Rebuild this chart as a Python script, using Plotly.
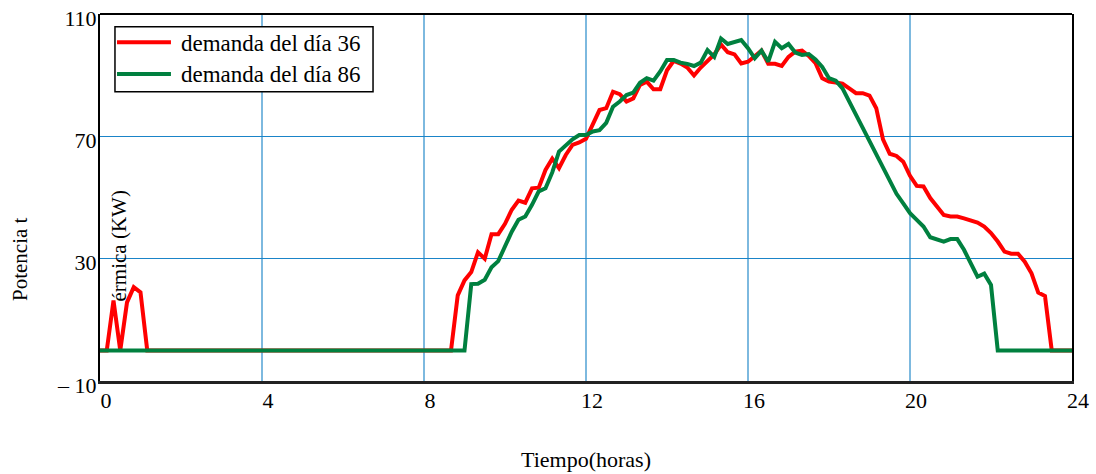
import plotly.graph_objects as go

# Thermal power demand (kW) for two days, sampled every 10 minutes
hours_36 = [0, 1/6, 2/6, 3/6, 4/6, 5/6, 1.0, 7/6, 8.667,
            8.833, 9.0, 9.167, 9.333, 9.5, 9.667, 9.833, 10.0, 10.167, 10.333,
            10.5, 10.667, 10.833, 11.0, 11.167, 11.333, 11.5, 11.667, 11.833, 12.0,
            12.333, 12.5, 12.667, 12.833, 13.0, 13.167, 13.333, 13.5, 13.667, 13.833,
            14.0, 14.167, 14.333, 14.5, 14.667, 14.833, 15.0, 15.167, 15.333, 15.5,
            15.667, 15.833, 16.0, 16.167, 16.333, 16.5, 16.667, 16.833, 17.0, 17.167,
            17.333, 17.5, 17.667, 17.833, 18.0, 18.167, 18.333, 18.5, 18.667, 18.833,
            19.0, 19.167, 19.333, 19.5, 19.667, 19.833, 20.0, 20.167, 20.333, 20.5,
            20.667, 20.833, 21.0, 21.167, 21.333, 21.5, 21.667, 21.833, 22.0, 22.167,
            22.333, 22.5, 22.667, 22.833, 23.0, 23.167, 23.333, 23.5, 24.0]
demand_36 = [0, 0, 16.3, 0, 15.7, 20.7, 19.0, 0, 0,
             18.0, 22.9, 25.6, 32.1, 30.0, 38.0, 38.0, 41.4, 46.0, 49.0,
             48.3, 53.0, 53.2, 59.0, 62.7, 59.6, 63.9, 67.2, 68.0, 69.2,
             78.6, 79.2, 84.6, 83.8, 81.4, 82.4, 86.8, 87.9, 85.4, 85.4,
             91.6, 94.7, 93.8, 92.5, 89.9, 92.5, 94.8, 96.8, 100.0, 97.5,
             96.8, 93.8, 94.4, 96.1, 98.0, 93.7, 93.7, 93.0, 96.0, 97.7,
             98.0, 96.3, 93.9, 89.0, 87.9, 87.6, 87.2, 85.7, 84.1, 84.1,
             83.3, 79.2, 69.0, 64.3, 63.6, 61.7, 57.1, 53.8, 53.6, 49.8,
             46.8, 44.3, 43.8, 43.8, 43.2, 42.6, 41.8, 40.5, 38.4, 35.6,
             32.3, 31.6, 31.6, 29.0, 25.2, 18.9, 17.8, 0, 0]

hours_86 = [0, 9.0,
            9.167, 9.333, 9.5, 9.667, 9.833, 10.0, 10.167, 10.333,
            10.5, 10.667, 10.833, 11.0, 11.167, 11.333, 11.5, 11.667, 11.833, 12.0,
            12.167, 12.333, 12.5, 12.667, 12.833, 13.0, 13.167, 13.333, 13.5, 13.667,
            13.833, 14.0, 14.167, 14.333, 14.5, 14.667, 14.833, 15.0, 15.167, 15.333,
            15.5, 15.667, 15.833, 16.0, 16.167, 16.333, 16.5, 16.667, 16.833, 17.0,
            17.167, 17.333, 17.5, 17.667, 17.833, 18.0, 18.167, 18.333, 18.5, 18.667,
            18.833, 19.0, 19.167, 19.333, 19.5, 19.667, 19.833, 20.0, 20.167, 20.333,
            20.5, 20.667, 20.833, 21.0, 21.167, 21.333, 21.5, 21.667, 21.833, 22.0,
            22.167, 24.0]
demand_86 = [0, 0,
             21.7, 21.8, 23.1, 27.2, 29.2, 34.0, 38.8, 42.7,
             43.8, 47.6, 52.0, 53.0, 58.2, 65.0, 67.2, 69.0, 70.4, 70.4,
             71.6, 72.0, 74.4, 79.7, 81.4, 83.5, 84.3, 87.5, 89.0, 88.2,
             91.2, 95.0, 95.0, 94.1, 93.7, 93.0, 94.1, 98.2, 96.0, 102.0,
             100.2, 100.7, 101.5, 98.8, 95.5, 98.0, 94.4, 100.9, 98.8, 100.2,
             97.4, 96.6, 96.9, 95.1, 92.7, 89.0, 88.2, 85.7, 81.4, 76.5,
             72.7, 68.3, 63.6, 59.6, 55.6, 51.2, 48.1, 44.9, 42.7, 40.5,
             37.0, 36.4, 35.6, 36.4, 36.4, 32.9, 28.8, 24.1, 25.1, 21.4,
             0, 0]

x_ticks = [0, 4, 8, 12, 16, 20, 24]
y_ticks = [-10, 30, 70, 110]
y_tick_text = ["\u2013 10", "30", "70", "110"]

series_names = ["demanda del día 36", "demanda del día 86"]
series_colors = ["#ff0000", "#00803f"]

FONT = "Liberation Serif"

fig = go.Figure()
fig.add_trace(go.Scatter(x=hours_36, y=demand_36, mode="lines",
                         name=series_names[0], showlegend=False,
                         line=dict(color=series_colors[0], width=4)))
fig.add_trace(go.Scatter(x=hours_86, y=demand_86, mode="lines",
                         name=series_names[1], showlegend=False,
                         line=dict(color=series_colors[1], width=4)))

fig.update_layout(
    width=1096, height=474,
    margin=dict(l=100, r=24, t=14, b=93),
    paper_bgcolor="white", plot_bgcolor="white",
    font=dict(family=FONT, size=22, color="black"),
    showlegend=False,
    xaxis=dict(range=[0, 24], tickvals=x_ticks, showgrid=True,
               gridcolor="#7db9df", gridwidth=1.5, zeroline=False,
               showline=True, linecolor="#222222", linewidth=3,
               ticks="", ticklabelshift=6, ticklabelstandoff=-2,
               ticklabeloverflow="allow", automargin=False,
               title=dict(text="Tiempo(horas)", standoff=40,
                          font=dict(family=FONT, size=22))),
    yaxis=dict(range=[-10, 110], tickvals=y_ticks, ticktext=y_tick_text,
               showgrid=True, gridcolor="#1a84c8", gridwidth=1.3,
               zeroline=False, showline=True, linecolor="black",
               linewidth=2, mirror=True, ticks="", ticklabelstandoff=-3,
               ticklabelshift=4, ticklabeloverflow="allow", automargin=False),
)

# top edge of the frame
fig.add_shape(type="line", xref="paper", yref="paper", x0=0, x1=1, y0=1, y1=1,
              line=dict(color="black", width=2))

# legend box with line samples and labels
fig.add_shape(type="rect", xref="paper", yref="paper",
              x0=0.0154, x1=0.2809, y0=0.7883, y1=0.9654,
              line=dict(color="black", width=1.5), fillcolor="white", layer="above")
legend_rows = [0.9229, 0.8365]
for name, color, yrow in zip(series_names, series_colors, legend_rows):
    fig.add_shape(type="line", xref="paper", yref="paper",
                  x0=0.0175, x1=0.0730, y0=yrow, y1=yrow,
                  line=dict(color=color, width=4), layer="above")
    fig.add_annotation(text=name, xref="paper", yref="paper",
                       x=0.0816, y=yrow - 0.002, xanchor="left", yanchor="middle",
                       showarrow=False, font=dict(family=FONT, size=23))

# y-axis label, split over two rotated pieces
fig.add_annotation(text="Potencia t", xref="paper", yref="paper",
                   x=-0.0823, y=0.2125, xanchor="center", yanchor="bottom",
                   textangle=-90, showarrow=False,
                   font=dict(family=FONT, size=21))
fig.add_annotation(text="érmica (KW)", xref="paper", yref="paper",
                   x=0.0195, y=0.2125, xanchor="center", yanchor="bottom",
                   textangle=-90, showarrow=False,
                   font=dict(family=FONT, size=21))

fig.write_html("out.html")
